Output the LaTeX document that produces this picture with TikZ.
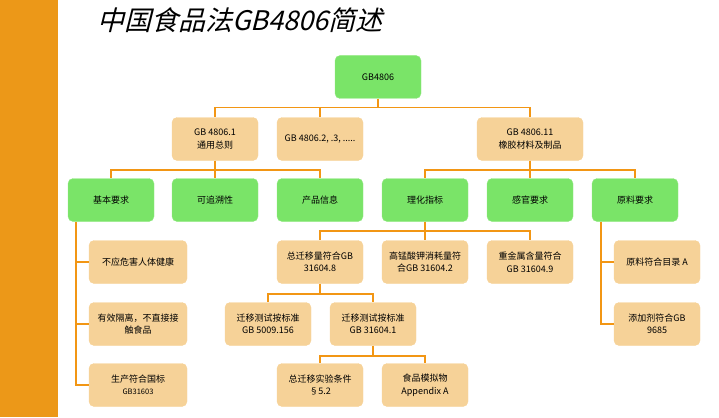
\documentclass[tikz,border=0pt]{standalone}
\usepackage{fontspec}
\setmainfont{Noto Sans CJK SC}
\newfontfamily\titlefont[FakeSlant=0.25]{Noto Sans CJK SC}
\usetikzlibrary{positioning}
\definecolor{barorange}{RGB}{236,152,24}
\definecolor{lineorange}{RGB}{242,150,20}
\definecolor{leafgreen}{RGB}{122,228,104}
\definecolor{leaftan}{RGB}{246,210,152}
\tikzset{
  box/.style={rounded corners=5pt, minimum width=86pt, minimum height=43pt,
    align=center, inner sep=2pt, font=\fontsize{9}{12.5}\selectfont},
  greenbox/.style={box, fill=leafgreen, draw=leafgreen!80!white},
  tanbox/.style={box, fill=leaftan, draw=leaftan},
  link/.style={draw=lineorange, line width=1.6pt}
}
\begin{document}
\begin{tikzpicture}[x=1pt,y=-1pt]
\useasboundingbox (0,0) rectangle (719,417);
\fill[barorange] (0,0) rectangle (58,417);
\node (title) [font=\titlefont\fontsize{27}{29}\selectfont] at (240,20) {中国食品法GB4806简述};

%% level 1 and 2
\node (root) [greenbox] at (378,77) {GB4806};
\node (gen) [tanbox] at (215,139) {GB 4806.1\\通用总则};
\node (oth) [tanbox] at (320,139) {GB 4806.2, .3, .....};
\node (rub) [tanbox, minimum width=106pt] at (530,139) {GB 4806.11\\橡胶材料及制品};

%% level 3
\node (basic) [greenbox] at (111,200) {基本要求};
\node (trace) [greenbox] at (215,200) {可追溯性};
\node (info) [greenbox] at (320,200) {产品信息};
\node (phys) [greenbox] at (425,200) {理化指标};
\node (sens) [greenbox] at (530,200) {感官要求};
\node (raw) [greenbox] at (635,200) {原料要求};

%% basic requirements
\node (b1) [tanbox, minimum width=98pt] at (138,262) {不应危害人体健康};
\node (b2) [tanbox, minimum width=98pt] at (138,324) {有效隔离，不直接接\\触食品};
\node (b3) [tanbox, minimum width=98pt] at (138,385) {生产符合国标\\{\fontsize{7.5}{10}\selectfont GB31603}};

%% physical chemical
\node (tot) [tanbox] at (320,262) {总迁移量符合GB\\31604.8};
\node (kmn) [tanbox] at (425,262) {高锰酸钾消耗量符\\合GB 31604.2};
\node (hvy) [tanbox] at (530,262) {重金属含量符合\\GB 31604.9};
\node (m1) [tanbox] at (268,324) {迁移测试按标准\\GB 5009.156};
\node (m2) [tanbox] at (373,324) {迁移测试按标准\\GB 31604.1};
\node (c1) [tanbox] at (320,385) {总迁移实验条件\\§5.2};
\node (c2) [tanbox] at (425,385) {食品模拟物\\Appendix A};

%% raw materials
\node (r1) [tanbox] at (657,262) {原料符合目录 A};
\node (r2) [tanbox] at (657,324) {添加剂符合GB\\9685};

%% connectors
\draw[link] (root.south) -- ++(0,9) -| (gen.north);
\draw[link] (root.south) ++(0,9) -| (oth.north);
\draw[link] (root.south) ++(0,9) -| (rub.north);
\draw[link] (gen.south) -- ++(0,9) -| (basic.north);
\draw[link] (gen.south) -- (trace.north);
\draw[link] (gen.south) ++(0,9) -| (info.north);
\draw[link] (rub.south) -- ++(0,9) -| (phys.north);
\draw[link] (rub.south) -- (sens.north);
\draw[link] (rub.south) ++(0,9) -| (raw.north);
\draw[link] (phys.south) -- ++(0,9) -| (tot.north);
\draw[link] (phys.south) -- (kmn.north);
\draw[link] (phys.south) ++(0,9) -| (hvy.north);
\draw[link] (tot.south) -- ++(0,10) -| (m1.north);
\draw[link] (tot.south) ++(0,10) -| (m2.north);
\draw[link] (m2.south) -- ++(0,10) -| (c1.north);
\draw[link] (m2.south) ++(0,10) -| (c2.north);
\draw[link] ([xshift=-35pt]basic.south) |- (b3.west);
\draw[link] ([xshift=-35pt]basic.south |- b1.west) -- (b1.west);
\draw[link] ([xshift=-35pt]basic.south |- b2.west) -- (b2.west);
\draw[link] ([xshift=-34pt]raw.south) |- (r2.west);
\draw[link] ([xshift=-34pt]raw.south |- r1.west) -- (r1.west);
\end{tikzpicture}
\end{document}
